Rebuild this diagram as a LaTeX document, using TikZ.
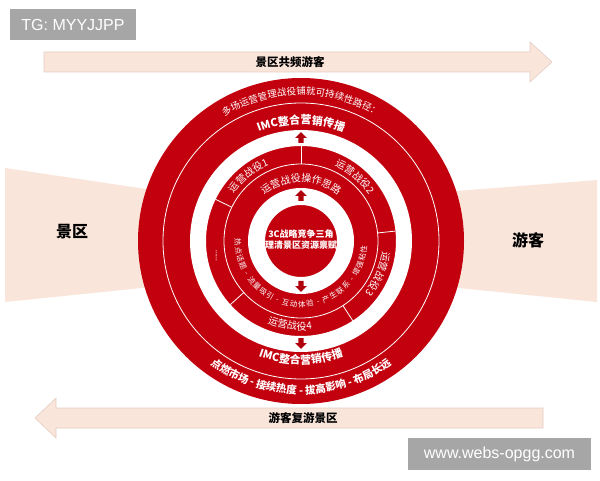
\documentclass[tikz,border=0pt]{standalone}
\usepackage{fontspec}
\setmainfont{Liberation Sans}
\newfontfamily\cjk{Noto Sans CJK SC}
\usetikzlibrary{decorations.text}
\definecolor{mainred}{RGB}{194,0,14}
\definecolor{arrowred}{RGB}{176,0,12}
\definecolor{beige}{RGB}{250,229,218}
\definecolor{beigeline}{RGB}{228,206,196}
\definecolor{wmgray}{RGB}{166,166,166}
\newcommand\arcT[5]{\path[decorate,decoration={text along path,text align=center,text={|#4|#5}}] (#2:#1) arc[start angle=#2,end angle=#3,radius=#1];}
\newcommand\arcFit[5]{\path[decorate,decoration={text along path,text align=fit to path,text={|#4|#5}}] (#2:#1) arc[start angle=#2,end angle=#3,radius=#1];}
\newcommand\smallarr[3]{\fill[arrowred,shift={(#1,#2)},rotate=#3] (-2.6,-5) -- (-2.6,0) -- (-5.8,0) -- (0,6) -- (5.8,0) -- (2.6,0) -- (2.6,-5) -- cycle;}
\tikzset{
  thinw/.style={draw=white,line width=0.8pt},
  wmbox/.style={fill=wmgray,text=white,inner sep=0pt,font=\fontsize{16}{18}\selectfont},
  bigcjk/.style={font=\cjk\bfseries\fontsize{16}{18}\selectfont,text=black},
  bannertext/.style={font=\cjk\bfseries\fontsize{11.5}{13}\selectfont,text=black}
}
\begin{document}
\begin{tikzpicture}[x=1pt,y=1pt]
\useasboundingbox (0,0) rectangle (600,480);
\fill[white] (0,0) rectangle (600,480);
% side shapes
\fill[beige] (5,312) -- (220,280) -- (220,200) -- (5,178) -- cycle;
\fill[beige] (597,300) -- (380,283) -- (380,200) -- (597,178) -- cycle;
\node[bigcjk] (jq) at (72,248) {景区};
\node[bigcjk] (yk) at (528,240) {游客};
% banners
\filldraw[fill=beige,draw=beigeline,line width=0.6pt] (44,408) -- (530,408) -- (530,398) -- (552,418) -- (530,438) -- (530,428) -- (44,428) -- cycle;
\node[bannertext] (bt) at (290,418) {景区共频游客};
\filldraw[fill=beige,draw=beigeline,line width=0.6pt] (543,52) -- (56,52) -- (56,42) -- (35,62) -- (56,82) -- (56,72) -- (543,72) -- cycle;
\node[bannertext] (bb) at (303,62) {游客复游景区};
% watermarks
\node[wmbox,minimum width=126pt,minimum height=31pt] (wm1) at (73,455) {TG: MYYJJPP};
\node[wmbox,minimum width=183pt,minimum height=32pt] (wm2) at (499.5,26) {www.webs-opgg.com};
% circles
\begin{scope}[shift={(301,239)}]
\fill[mainred] (0,0) circle (163);
\draw[thinw] (0,0) circle (138);
\fill[white,even odd rule] (0,0) circle (111) (0,0) circle (95);
\draw[thinw] (0,0) circle (77);
\fill[white,even odd rule] (0,0) circle (53) (0,0) circle (36);
% dividers
\foreach \a in {90,154,6,-57,222} \draw[thinw] (\a:77) -- (\a:95);
% arrows
\smallarr{0}{103}{0}
\smallarr{0}{-102}{180}
\smallarr{0}{45}{0}
\smallarr{0}{-45}{180}
% outer texts
\arcT{146}{152}{28}{\cjk\color{white}\fontsize{9.5}{11}\selectfont}{多场运营管理战役铺就可持续性路径：}
\arcT{117}{130}{50}{\cjk\bfseries\color{white}\fontsize{11}{13}\selectfont}{IMC整合营销传播}
\arcT{123}{230}{310}{\cjk\bfseries\color{white}\fontsize{11}{13}\selectfont}{IMC整合营销传播}
\arcT{153}{215}{325}{\cjk\bfseries\color{white}\fontsize{10.5}{12}\selectfont}{点燃市场 - 接续热度 - 拔高影响 - 布局长远}
% middle band labels
\arcT{82}{162}{96}{\cjk\color{white}\fontsize{10}{12}\selectfont}{运营战役1}
\arcT{82}{86}{14}{\cjk\color{white}\fontsize{10}{12}\selectfont}{运营战役2}
\arcT{82}{8}{-54}{\cjk\color{white}\fontsize{10}{12}\selectfont}{运营战役3}
\arcT{89}{-135}{-60}{\cjk\color{white}\fontsize{10}{12}\selectfont}{运营战役4}
\node[text=white,rotate=-90,font=\bfseries\fontsize{6}{6}\selectfont,inner sep=0pt] (dots) at (190:86) {......};
% inner band
\arcT{59}{135}{45}{\cjk\color{white}\fontsize{10}{12}\selectfont}{运营战役操作思路}
\arcFit{66}{178}{356}{\cjk\color{white}\fontsize{7.5}{9}\selectfont}{热点话题 - 流量吸引 - 互动体验 - 产生联系 - 增强粘性}
% center
\node[text=white,align=center,font=\cjk\bfseries\fontsize{9}{11}\selectfont,inner sep=0pt] (core) at (0,1) {3C战略竞争三角\\理清景区资源禀赋};
\end{scope}
\end{tikzpicture}
\end{document}
